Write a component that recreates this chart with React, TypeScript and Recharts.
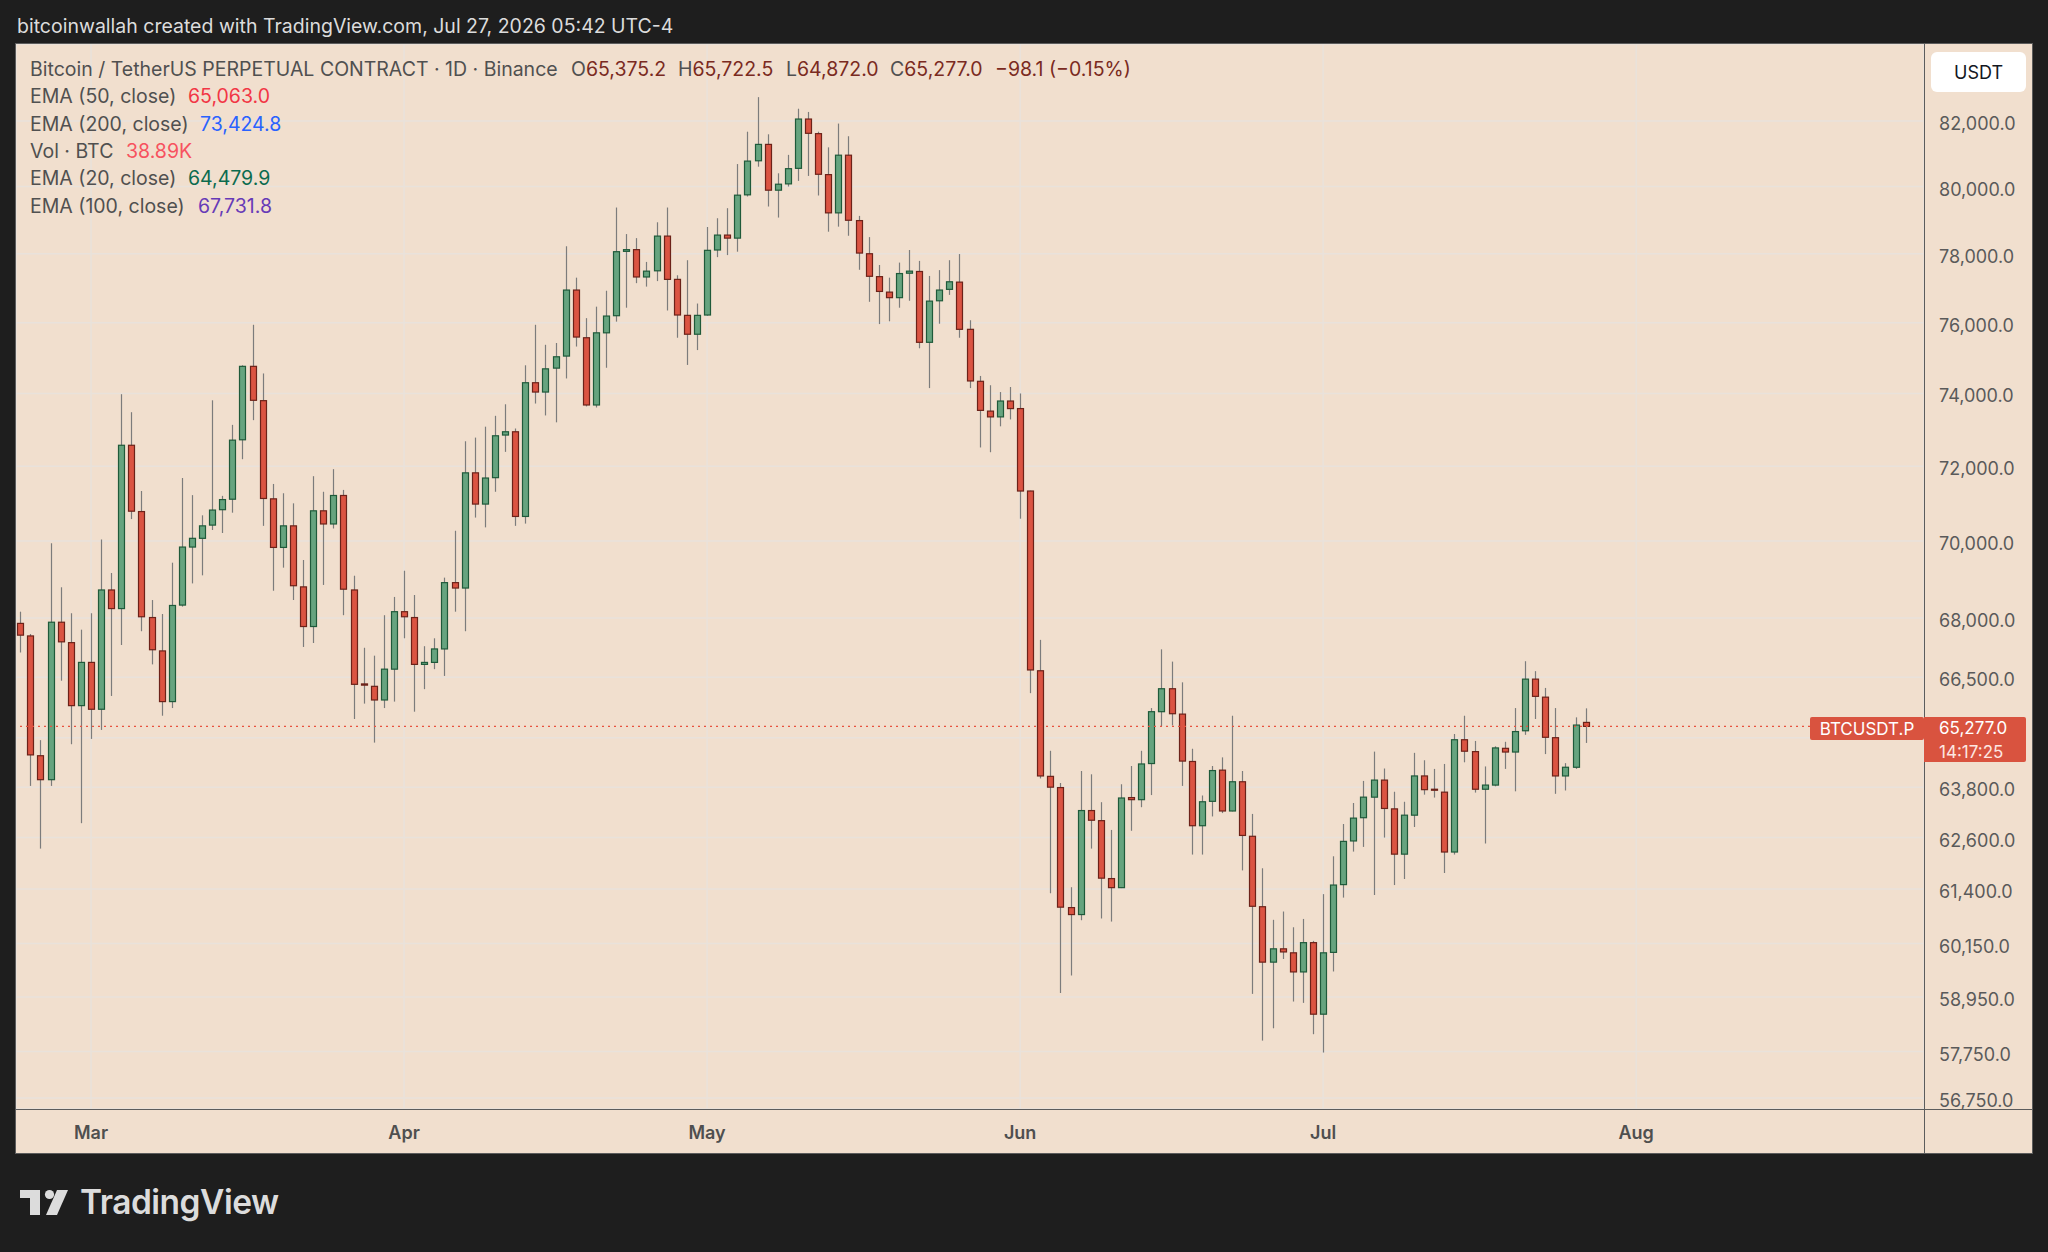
import { ComposedChart, Bar, XAxis, YAxis, CartesianGrid, ReferenceLine } from "recharts";

// daily candles, index 0 = Feb 22
const opens = [
  67860, 67540, 64560, 63980, 67890, 67370, 65790, 66870, 65700, 68720,
  68240, 72570, 70780, 68010, 67160, 65890, 68330, 69840, 70070, 70420,
  70830, 71110, 72720, 74760, 73800, 71120, 69830, 70400, 68800, 67780,
  70800, 70450, 71210, 68720, 66330, 66270, 65930, 66700, 68160, 68010,
  66820, 66870, 67210, 68910, 68770, 71820, 70980, 71690, 72850, 72940,
  70650, 74300, 74040, 74710, 75050, 76940, 75570, 73680, 75710, 76200,
  78070, 78120, 77320, 77500, 78520, 77250, 76210, 75670, 76220, 78110,
  78550, 78460, 79750, 80780, 81280, 79890, 80080, 80550, 82060, 81610,
  80360, 79210, 80950, 78980, 78000, 77330, 76880, 76720, 77430, 77480,
  75440, 76630, 76960, 77170, 75810, 74340, 73510, 73350, 73790, 73580,
  71330, 66660, 64060, 63790, 60970, 60810, 63240, 63000, 61640, 61430,
  63550, 63500, 64370, 65640, 66210, 65580, 64420, 62880, 63460, 64210,
  63230, 63930, 62630, 60990, 59730, 60030, 59940, 59510, 60170, 58570,
  59950, 61500, 62520, 63070, 63560, 63970, 63280, 62210, 63130, 64070,
  63750, 63680, 62260, 64950, 64660, 63750, 63850, 64740, 64650, 65170,
  66450, 66000, 65000, 64070, 64280, 65375.2,
];
const highs = [
  68160, 67590, 64940, 69940, 68790, 68120, 67700, 68120, 70040, 69160,
  73980, 73480, 71330, 68460, 68100, 69430, 71680, 71220, 70680, 73810,
  71200, 73130, 74790, 75940, 74560, 71520, 71270, 71000, 69500, 71730,
  71310, 71920, 71360, 69090, 67240, 67040, 68070, 68540, 69220, 68590,
  67280, 67480, 69040, 70270, 72680, 72780, 73080, 73380, 73700, 73030,
  74790, 75940, 75370, 75420, 78220, 77300, 76130, 76460, 76920, 79370,
  78580, 78460, 77760, 78930, 79370, 77370, 77810, 76550, 78790, 79050,
  79350, 80680, 81670, 82740, 81590, 80400, 80960, 82380, 82280, 81670,
  81190, 81920, 81530, 79120, 78490, 77670, 77300, 77740, 78110, 77790,
  77350, 77520, 77810, 77990, 76070, 74490, 74230, 74040, 74180, 74000,
  71340, 67440, 64680, 63900, 61440, 64190, 64110, 63440, 62780, 63870,
  64310, 64680, 65730, 67200, 66890, 66370, 64730, 63600, 64310, 64520,
  65540, 64190, 63160, 61880, 60690, 60880, 60520, 60710, 60210, 61280,
  62160, 62920, 63420, 63950, 64660, 64250, 63690, 63450, 64630, 64450,
  64240, 64360, 65090, 65540, 64920, 64300, 64790, 64900, 65730, 66900,
  66650, 66230, 65730, 64380, 65500, 65722.5,
];
const lows = [
  67120, 63830, 62340, 63830, 66410, 64840, 62940, 64970, 65190, 66030,
  67310, 70580, 67660, 66820, 65540, 65730, 68290, 68890, 69100, 70290,
  70210, 70750, 72190, 73260, 70400, 68700, 69300, 68460, 67260, 67360,
  68850, 70330, 68070, 65460, 65840, 64880, 65730, 65890, 67480, 65640,
  66200, 66700, 66530, 68160, 67660, 70620, 70360, 71310, 72390, 70400,
  70460, 73720, 73390, 73200, 74420, 75320, 73640, 73610, 74720, 76030,
  76430, 77140, 77040, 77200, 76350, 75570, 74800, 75220, 76200, 77900,
  77960, 78060, 79700, 80600, 79400, 79070, 80000, 80170, 80320, 79730,
  78650, 78800, 78530, 77530, 76600, 75960, 76040, 76430, 76630, 75270,
  74150, 75970, 76800, 75570, 74150, 72510, 72380, 73090, 73280, 70590,
  66100, 64010, 61300, 59040, 59430, 60680, 62340, 60720, 60650, 61420,
  62760, 63320, 63610, 65280, 65300, 63830, 62200, 62200, 63100, 63180,
  63220, 61830, 59020, 57990, 58260, 59800, 58850, 58820, 58130, 57730,
  59520, 61200, 62270, 62380, 61260, 62600, 61490, 61630, 62850, 63620,
  63550, 61770, 62200, 64400, 63670, 62460, 63820, 64240, 63700, 65070,
  65460, 64600, 63640, 63720, 64240, 64872,
];
const closes = [
  67560, 64580, 63980, 67890, 67390, 65790, 66870, 65700, 68720, 68240,
  72570, 70790, 68030, 67190, 65890, 68320, 69840, 70070, 70400, 70820,
  71100, 72710, 74760, 73810, 71130, 69830, 70400, 68830, 67780, 70800,
  70450, 71210, 68740, 66320, 66300, 65930, 66700, 68160, 68030, 66820,
  66870, 67210, 68910, 68770, 71820, 70980, 71680, 72830, 72940, 70650,
  74300, 74040, 74690, 75030, 76940, 75590, 73680, 75710, 76190, 78060,
  78120, 77320, 77490, 78520, 77250, 76220, 75670, 76210, 78100, 78550,
  78460, 79740, 80770, 81280, 79890, 80070, 80540, 82060, 81620, 80370,
  79210, 80950, 78990, 78020, 77340, 76900, 76720, 77420, 77490, 75440,
  76620, 76940, 77180, 75810, 74350, 73530, 73350, 73790, 73580, 71330,
  66680, 64070, 63800, 60980, 60810, 63240, 63010, 61650, 61430, 63540,
  63500, 64360, 65640, 66210, 65590, 64430, 62880, 63450, 64200, 63230,
  63930, 62650, 61000, 59730, 60030, 59960, 59510, 60170, 58570, 59940,
  61490, 62510, 63060, 63560, 63970, 63290, 62210, 63130, 64070, 63740,
  63730, 62260, 64950, 64670, 63750, 63850, 64750, 64650, 65150, 66450,
  66020, 65010, 64070, 64280, 65310, 65277,
];

const monthTicks = [7, 38, 68, 99, 129, 160];
const monthLabels = ["Mar", "Apr", "May", "Jun", "Jul", "Aug"];
const priceTicks = [
  82000, 80000, 78000, 76000, 74000, 72000, 70000, 68000, 66500, 65000,
  63800, 62600, 61400, 60150, 58950, 57750, 56750,
];
// grid line kept, label sits under the last-price badge
const hiddenTick = 65000;
const lastPrice = 65277;

const BG = "#f1dfce";
const GRID = "#e9e2db";
const UP_FILL = "#66a47f";
const UP_EDGE = "#1f5a3a";
const DOWN_FILL = "#db5442";
const DOWN_EDGE = "#6c2219";
const WICK = "#7c7c7c";
const FONT = "Inter, 'Noto Sans', sans-serif";

const chartData = opens.map((o, i) => ({
  i,
  range: [lows[i], highs[i]],
  open: o,
  high: highs[i],
  low: lows[i],
  close: closes[i],
}));

const Candle = (props: any) => {
  const {x, y, width, height, payload} = props;
  if (!payload) return null;
  const {open, close, high, low} = payload;
  const top = Math.min(y, y + height);
  const h = Math.abs(height);
  const lh = Math.log(high);
  const ll = Math.log(low);
  const toY = (v: number) => top + (h * (lh - Math.log(v))) / (lh - ll);
  const cx = Math.round(x + width / 2) + 0.5;
  const up = close >= open;
  const bTop = toY(Math.max(open, close));
  const bBot = toY(Math.min(open, close));
  return (
    <g>
      <line x1={cx} x2={cx} y1={top} y2={top + h} stroke={WICK} strokeWidth={1.2}/>
      <rect
        x={cx - 3}
        y={bTop}
        width={6}
        height={Math.max(bBot - bTop, 1)}
        fill={up ? UP_FILL : DOWN_FILL}
        stroke={up ? UP_EDGE : DOWN_EDGE}
        strokeWidth={1.2}
      />
    </g>
  );
};

const fmtPrice = (v: number) =>
  v.toLocaleString("en-US", {minimumFractionDigits: 1, maximumFractionDigits: 1});

const PriceTick = ({x, y, payload}: any) => {
  if (payload.value === hiddenTick) return <g/>;
  return (
    <text x={x} y={y} dy={9} textAnchor="start" fontSize={18} fill="#5a5a5a" fontFamily={FONT}>
      {fmtPrice(payload.value)}
    </text>
  );
};

const legendRows = [
  {label: "EMA (50, close)", value: "65,063.0", color: "#f23645", y: 97, vx: 188},
  {label: "EMA (200, close)", value: "73,424.8", color: "#2962ff", y: 124.5, vx: 200},
  {label: "Vol · BTC", value: "38.89K", color: "#f7525f", y: 151.5, vx: 126},
  {label: "EMA (20, close)", value: "64,479.9", color: "#0b6b4f", y: 179, vx: 188},
  {label: "EMA (100, close)", value: "67,731.8", color: "#673ab7", y: 206.5, vx: 198},
];

const ohlc = [
  {k: "O", v: "65,375.2", x: 571},
  {k: "H", v: "65,722.5", x: 678},
  {k: "L", v: "64,872.0", x: 786},
  {k: "C", v: "65,277.0", x: 890},
];

const txt = (x: number, y: number, extra: any = {}): any => ({
  position: "absolute",
  left: x,
  top: y,
  transform: "translateY(-50%)",
  whiteSpace: "nowrap",
  lineHeight: 1,
  ...extra,
});

export default function App() {
  return (
    <div style={{position: "fixed", left: 0, top: 0, width: 2048, height: 1252, background: "#1e1e1e", overflow: "hidden", fontFamily: FONT}}>
      <div style={txt(17, 27, {color: "#dcdcdc", fontSize: 19.5})}>
        bitcoinwallah created with TradingView.com, Jul 27, 2026 05:42 UTC-4
      </div>

      <div style={{position: "absolute", left: 15, top: 43, width: 2018, height: 1111, border: "1px solid #5c5c5c", boxSizing: "border-box", background: BG}}>
        <ComposedChart
          width={2016}
          height={1109}
          data={chartData}
          margin={{top: 0, right: 0, bottom: 0, left: 0}}
        >
          <CartesianGrid stroke={GRID} strokeWidth={1.5}/>
          <XAxis
            dataKey="i"
            type="number"
            domain={[-0.43, 188.5]}
            allowDataOverflow
            ticks={monthTicks}
            tickFormatter={(v: number) => monthLabels[monthTicks.indexOf(v)] ?? ""}
            height={44}
            axisLine={false}
            tickLine={false}
            tickSize={0}
            tickMargin={17}
            tick={{fontSize: 18, fill: "#4f4f4f", fontWeight: 600, fontFamily: FONT}}
          />
          <YAxis
            orientation="right"
            scale="log"
            domain={[56515, 84413]}
            allowDataOverflow
            ticks={priceTicks}
            width={108}
            axisLine={false}
            tickLine={false}
            tickSize={0}
            tickMargin={15}
            tick={<PriceTick/>}
          />
          <ReferenceLine y={lastPrice} stroke="#e8523f" strokeDasharray="2 4" strokeWidth={1.2} ifOverflow="hidden"/>
          <Bar dataKey="range" barSize={6} shape={<Candle/>} isAnimationActive={false}/>
        </ComposedChart>
        <div style={{position: "absolute", left: 1908, top: 0, width: 1, height: 1109, background: "#5c5c5c"}}/>
        <div style={{position: "absolute", left: 0, top: 1065, width: 2016, height: 1, background: "#5c5c5c"}}/>
      </div>

      {/* legend */}
      <div style={txt(30, 69.5, {color: "#505050", fontSize: 19.5})}>
        Bitcoin / TetherUS PERPETUAL CONTRACT · 1D · Binance
      </div>
      {ohlc.map((o) => (
        <div key={o.k} style={txt(o.x, 69.5, {fontSize: 19.5})}>
          <span style={{color: "#505050"}}>{o.k}</span>
          <span style={{color: "#7a2a21"}}>{o.v}</span>
        </div>
      ))}
      <div style={txt(995, 69.5, {color: "#7a2a21", fontSize: 19.5})}>−98.1 (−0.15%)</div>
      {legendRows.map((r) => (
        <div key={r.label}>
          <div style={txt(30, r.y, {color: "#505050", fontSize: 19.5})}>{r.label}</div>
          <div style={txt(r.vx, r.y, {color: r.color, fontSize: 19.5})}>{r.value}</div>
        </div>
      ))}

      {/* price scale widgets */}
      <div style={{position: "absolute", left: 1931, top: 52, width: 95, height: 40, background: "#ffffff", borderRadius: 6, display: "flex", alignItems: "center", justifyContent: "center", fontSize: 18, color: "#131722"}}>
        USDT
      </div>
      <div style={{position: "absolute", left: 1810, top: 717, width: 114, height: 23, background: "#d9533f", borderRadius: 2, color: "#fff", fontSize: 17, display: "flex", alignItems: "center", justifyContent: "center"}}>
        BTCUSDT.P
      </div>
      <div style={{position: "absolute", left: 1924, top: 717, width: 102, height: 45, background: "#d9533f", borderRadius: "0 2px 2px 0", color: "#fff"}}>
        <div style={txt(15, 10.5, {fontSize: 17})}>65,277.0</div>
        <div style={txt(15, 34.5, {fontSize: 17, color: "#fde7e2"})}>14:17:25</div>
      </div>

      {/* footer logo */}
      <svg style={{position: "absolute", left: 0, top: 1180}} width={80} height={50}>
        <path d="M20 10 H40 V35 H30 V18 H20 Z" fill="#dcdcdc"/>
        <circle cx={49.5} cy={14.5} r={4.6} fill="#dcdcdc"/>
        <path d="M57 10 H68 L57 35 H46 Z" fill="#dcdcdc"/>
      </svg>
      <div style={txt(80, 1203, {color: "#dcdcdc", fontSize: 33.5, fontWeight: 600, letterSpacing: -0.5})}>TradingView</div>
    </div>
  );
}
